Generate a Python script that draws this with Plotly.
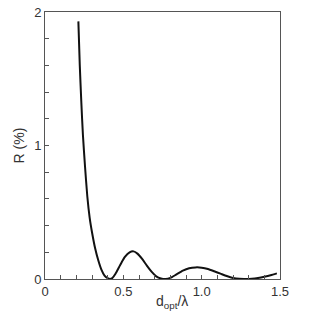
import plotly.graph_objects as go

d_over_lambda = [0.213, 0.222, 0.232, 0.242, 0.255, 0.27, 0.285, 0.30, 0.32, 0.34, 0.36, 0.38, 0.40,
                 0.415, 0.43, 0.45, 0.48, 0.51, 0.54, 0.565, 0.59, 0.62, 0.65, 0.68, 0.71, 0.74,
                 0.77, 0.80, 0.84, 0.88, 0.92, 0.96, 1.00, 1.04, 1.08, 1.12, 1.16, 1.20, 1.24,
                 1.28, 1.32, 1.36, 1.40, 1.44, 1.48]
reflectance = [1.93, 1.60, 1.32, 1.08, 0.85, 0.62, 0.46, 0.35, 0.23, 0.14, 0.07, 0.025, 0.006,
               0.0, 0.008, 0.04, 0.105, 0.165, 0.20, 0.207, 0.19, 0.15, 0.10, 0.055, 0.02, 0.004,
               0.0, 0.008, 0.035, 0.062, 0.08, 0.087, 0.085, 0.075, 0.058, 0.04, 0.022, 0.008, 0.001,
               0.0, 0.002, 0.008, 0.017, 0.028, 0.042]

x_tickvals = [0, 0.5, 1.0, 1.5]
x_ticktext = ["0", "0.5", "1.0", "1.5"]
y_tickvals = [0, 1, 2]
y_ticktext = ["0", "1", "2"]

fig = go.Figure()
fig.add_trace(go.Scatter(x=d_over_lambda, y=reflectance, mode="lines",
                         line=dict(color="#111111", width=2, shape="spline", smoothing=0.6),
                         showlegend=False, hoverinfo="skip"))

axis_font = dict(family="Liberation Sans, Arial, sans-serif", size=13, color="#333333")
fig.update_layout(
    width=312, height=318,
    margin=dict(l=45, r=32, t=12, b=39),
    paper_bgcolor="white", plot_bgcolor="white",
    font=axis_font,
    xaxis=dict(range=[0, 1.5], tickvals=x_tickvals, ticktext=x_ticktext, automargin=False,
               ticks="inside", ticklen=4, tickcolor="#555555",
               minor=dict(dtick=0.1, tick0=0, ticks="inside", ticklen=4, tickcolor="#555555"),
               showline=True, linecolor="#555555", linewidth=1, mirror=True,
               showgrid=False, zeroline=False,
               tickfont=dict(size=13, color="#333333")),
    yaxis=dict(range=[0, 2], tickvals=y_tickvals, ticktext=y_ticktext, automargin=False,
               ticks="inside", ticklen=4, tickcolor="#555555",
               minor=dict(dtick=0.2, tick0=0, ticks="inside", ticklen=4, tickcolor="#555555"),
               showline=True, linecolor="#555555", linewidth=1, mirror=True,
               showgrid=False, zeroline=False,
               title=dict(text="R (%)", font=dict(size=14, color="#333333"), standoff=6),
               tickfont=dict(size=13, color="#333333")),
    annotations=[dict(text="d<sub>opt</sub>/λ", xref="paper", yref="paper",
                      x=0.54, y=-0.088, xanchor="center", yanchor="middle",
                      showarrow=False, font=dict(size=14, color="#333333"))],
)

fig.write_html("out.html")
